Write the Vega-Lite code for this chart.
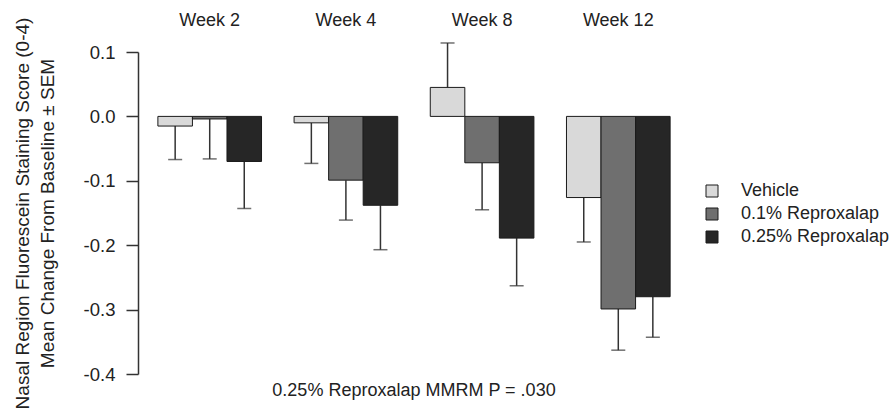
{
  "$schema": "https://vega.github.io/schema/vega-lite/v6.json",
  "autosize": "none",
  "width": 552,
  "height": 322,
  "padding": {"left": 138, "top": 52, "right": 202, "bottom": 38},
  "background": "white",
  "config": {
    "view": {"stroke": null},
    "font": "Liberation Sans",
    "axis": {"labelFont": "Liberation Sans", "titleFont": "Liberation Sans", "labelColor": "#222", "titleColor": "#222"},
    "legend": {"labelFont": "Liberation Sans"},
    "title": {"font": "Liberation Sans"}
  },
  "title": {
    "text": "0.25% Reproxalap MMRM P = .030",
    "orient": "bottom",
    "anchor": "middle",
    "fontSize": 18,
    "fontWeight": "normal",
    "color": "#222",
    "offset": -27
  },
  "data": {
    "values": [
      {"week": "Week 2", "treatment": "Vehicle", "mean": -0.015, "end": -0.067},
      {"week": "Week 2", "treatment": "0.1% Reproxalap", "mean": -0.004, "end": -0.066},
      {"week": "Week 2", "treatment": "0.25% Reproxalap", "mean": -0.070, "end": -0.143},
      {"week": "Week 4", "treatment": "Vehicle", "mean": -0.010, "end": -0.073},
      {"week": "Week 4", "treatment": "0.1% Reproxalap", "mean": -0.099, "end": -0.161},
      {"week": "Week 4", "treatment": "0.25% Reproxalap", "mean": -0.138, "end": -0.207},
      {"week": "Week 8", "treatment": "Vehicle", "mean": 0.045, "end": 0.114},
      {"week": "Week 8", "treatment": "0.1% Reproxalap", "mean": -0.072, "end": -0.145},
      {"week": "Week 8", "treatment": "0.25% Reproxalap", "mean": -0.189, "end": -0.263},
      {"week": "Week 12", "treatment": "Vehicle", "mean": -0.126, "end": -0.195},
      {"week": "Week 12", "treatment": "0.1% Reproxalap", "mean": -0.299, "end": -0.363},
      {"week": "Week 12", "treatment": "0.25% Reproxalap", "mean": -0.280, "end": -0.343}
    ]
  },
  "encoding": {
    "x": {
      "field": "week",
      "type": "nominal",
      "sort": ["Week 2", "Week 4", "Week 8", "Week 12"],
      "scale": {"paddingInner": 0.239, "paddingOuter": 0.146},
      "axis": {"orient": "top", "title": null, "ticks": false, "domain": false, "labelAngle": 0, "labelFontSize": 18, "labelPadding": 23}
    },
    "xOffset": {
      "field": "treatment",
      "type": "nominal",
      "sort": ["Vehicle", "0.1% Reproxalap", "0.25% Reproxalap"],
      "scale": {"paddingInner": 0, "paddingOuter": 0}
    }
  },
  "layer": [
    {
      "mark": {"type": "rule", "color": "#333", "strokeWidth": 1.5},
      "encoding": {
        "y": {"field": "mean", "type": "quantitative"},
        "y2": {"field": "end"}
      }
    },
    {
      "mark": {"type": "bar", "stroke": "#1a1a1a", "strokeWidth": 1},
      "encoding": {
        "y": {
          "field": "mean",
          "type": "quantitative",
          "scale": {"domain": [-0.4, 0.1], "nice": false, "zero": false},
          "axis": {
            "values": [0.1, 0, -0.1, -0.2, -0.3, -0.4],
            "format": ".1f",
            "labelExpr": "replace(datum.label, '\u2212', '-')",
            "grid": false,
            "domainColor": "#333",
            "domainWidth": 1.5,
            "tickColor": "#333",
            "tickWidth": 1.5,
            "tickSize": 12,
            "labelFontSize": 18.5,
            "labelPadding": 11,
            "title": ["Nasal Region Fluorescein Staining Score (0-4)", "Mean Change From Baseline \u00b1 SEM"],
            "titleFontSize": 19,
            "titleFontWeight": "normal",
            "titleLineHeight": 25,
            "titlePadding": 26
          }
        },
        "y2": {"datum": 0},
        "color": {
          "field": "treatment",
          "type": "nominal",
          "sort": ["Vehicle", "0.1% Reproxalap", "0.25% Reproxalap"],
          "scale": {"domain": ["Vehicle", "0.1% Reproxalap", "0.25% Reproxalap"], "range": ["#d9d9d9", "#6f6f6f", "#262626"]},
          "legend": {
            "title": null,
            "orient": "none",
            "legendX": 565,
            "legendY": 130,
            "symbolType": "square",
            "symbolSize": 144,
            "symbolStrokeColor": "#1a1a1a",
            "symbolStrokeWidth": 1,
            "labelFontSize": 18,
            "labelColor": "#222",
            "labelOffset": 20,
            "rowPadding": 5,
            "padding": 0
          }
        }
      }
    },
    {
      "mark": {"type": "tick", "color": "#333", "thickness": 1.5, "size": 14, "orient": "horizontal"},
      "encoding": {
        "y": {"field": "end", "type": "quantitative"}
      }
    }
  ]
}
